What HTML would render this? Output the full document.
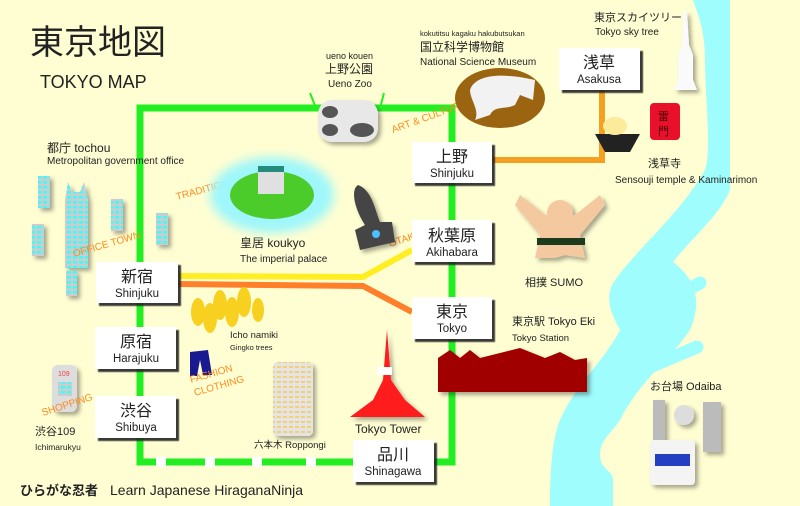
<!DOCTYPE html>
<html><head><meta charset="utf-8"><style>
html,body{margin:0;padding:0;background:#fffed2;}
svg{display:block;}
text{font-family:"Liberation Sans","Noto Sans CJK JP",sans-serif;fill:#222;}
.o{fill:#ff8a1a;font-size:10px;}
</style></head><body>
<svg width="800" height="506" viewBox="0 0 800 506" xmlns="http://www.w3.org/2000/svg">
<defs>
<filter id="sh" x="-20%" y="-20%" width="150%" height="150%"><feDropShadow dx="3" dy="3" stdDeviation="0.6" flood-color="#222" flood-opacity="0.9"/></filter>
<filter id="bl"><feGaussianBlur stdDeviation="5"/></filter>
<filter id="ss" x="-20%" y="-20%" width="150%" height="150%"><feDropShadow dx="3" dy="3" stdDeviation="2" flood-color="#000" flood-opacity="0.35"/></filter>
<pattern id="win" width="6" height="5" patternUnits="userSpaceOnUse"><rect width="6" height="5" fill="#ccc"/><rect x="1" y="1" width="4" height="2.5" fill="#3ff"/></pattern>
<pattern id="winy" width="6" height="5" patternUnits="userSpaceOnUse"><rect width="6" height="5" fill="#e4e4e4"/><rect x="1" y="1" width="4" height="2" fill="#f5d070"/></pattern>
</defs>
<rect width="800" height="506" fill="#fffed2"/>
<path d="M693,0 L730,0 L730,190 C720,215 690,240 673,262 C690,275 705,295 690,330 C670,360 640,380 620,420 C610,435 600,440 600,455 C600,470 613,470 613,480 L613,506 L550,506 C550,470 552,440 560,420 C575,385 605,360 620,330 C612,315 605,300 612,285 C630,255 680,215 705,170 C712,150 705,100 705,60 C705,30 698,15 693,0 Z" fill="#9ffdfd"/>
<path d="M650,310 L700,283 M650,367 L697,347" stroke="#9ffdfd" stroke-width="13" stroke-linecap="round"/>
<path d="M140,108 L452,108 L452,462 L140,462 Z" fill="none" stroke="#22ee22" stroke-width="7"/>
<g fill="#fff"><rect x="156" y="457" width="10" height="10"/><rect x="205" y="457" width="10" height="10"/><rect x="252" y="457" width="10" height="10"/><rect x="306" y="457" width="10" height="10"/></g>
<path d="M492,160 L602,160 L602,90" fill="none" stroke="#f5a020" stroke-width="6"/>
<path d="M178,276 L363,277 L412,250" fill="none" stroke="#ffee22" stroke-width="6"/>
<path d="M178,284 L363,286 L412,312" fill="none" stroke="#ff7f2a" stroke-width="6"/>
<text x="30" y="54" font-size="34">東京地図</text>
<text x="40" y="88" font-size="18">TOKYO MAP</text>
<text x="326" y="59" font-size="9">ueno kouen</text>
<text x="325" y="73" font-size="12">上野公園</text>
<text x="328" y="87" font-size="10">Ueno Zoo</text>
<text x="420" y="36" font-size="7.5">kokutitsu kagaku hakubutsukan</text>
<text x="420" y="51" font-size="12">国立科学博物館</text>
<text x="420" y="65" font-size="10">National Science Museum</text>
<text x="594" y="21" font-size="11">東京スカイツリー</text>
<text x="595" y="35" font-size="10">Tokyo sky tree</text>
<text x="47" y="152" font-size="12">都庁 tochou</text>
<text x="47" y="164" font-size="10">Metropolitan government office</text>
<text x="648" y="167" font-size="11">浅草寺</text>
<text x="615" y="183" font-size="10">Sensouji temple &amp; Kaminarimon</text>
<text x="240" y="247" font-size="12">皇居 koukyo</text>
<text x="240" y="262" font-size="10">The imperial palace</text>
<text x="525" y="286" font-size="11">相撲 SUMO</text>
<text x="512" y="325" font-size="11">東京駅 Tokyo Eki</text>
<text x="512" y="341" font-size="9.5">Tokyo Station</text>
<text x="230" y="338" font-size="9.5">Icho namiki</text>
<text x="230" y="350" font-size="7.5">Gingko trees</text>
<text x="650" y="390" font-size="11">お台場 Odaiba</text>
<text x="35" y="435" font-size="11">渋谷109</text>
<text x="35" y="450" font-size="8.5">Ichimarukyu</text>
<text x="254" y="448" font-size="9.5">六本木 Roppongi</text>
<text x="355" y="433" font-size="12">Tokyo Tower</text>
<text x="20" y="495" font-size="13" font-weight="bold" font-family="Noto Sans CJK JP">ひらがな忍者</text>
<text x="110" y="495" font-size="14">Learn Japanese HiraganaNinja</text>
<g filter="url(#ss)">
<rect x="38" y="176" width="12" height="32" fill="url(#win)"/><rect x="32" y="224" width="12" height="32" fill="url(#win)"/>
<path d="M65,200 L68,182 L72,192 L80,192 L84,182 L88,200 L88,268 L65,268Z" fill="url(#win)"/>
<rect x="111" y="199" width="12" height="32" fill="url(#win)"/><rect x="156" y="213" width="12" height="32" fill="url(#win)"/><rect x="66" y="271" width="11" height="25" fill="url(#win)"/>
<rect x="52" y="365" width="25" height="47" rx="6" fill="#ddd"/>
<rect x="273" y="362" width="40" height="74" rx="5" fill="url(#winy)"/>
</g>
<rect x="58" y="382" width="14" height="14" fill="url(#win)"/>
<text x="58" y="376" font-size="7" style="fill:#e44">109</text>
<text class="o" transform="translate(177,200) rotate(-15)">TRADITION</text>
<text class="o" transform="translate(74,257) rotate(-16)">OFFICE TOWN</text>
<text class="o" transform="translate(393,133) rotate(-20)">ART &amp; CULTURE</text>
<text class="o" transform="translate(390,247) rotate(-18)">OTAKU</text>
<text class="o" transform="translate(43,416) rotate(-18)">SHOPPING</text>
<ellipse cx="500" cy="98" rx="45" ry="30" fill="#9a6410"/>
<path d="M470,90 C475,75 500,72 535,80 L533,100 L520,95 L515,105 C505,110 495,105 490,115 L475,120 C480,110 470,100 470,90Z" fill="#f2f2f2"/>
<path d="M683,12 L687,12 L689,45 L693,55 L693,80 L697,90 L674,90 L678,80 L678,55 L682,45Z" fill="#fafafa" filter="url(#ss)"/>
<rect x="650" y="103" width="30" height="37" rx="4" fill="#e8102a"/>
<text x="658" y="120" font-size="11" style="fill:#400">雷</text><text x="658" y="135" font-size="11" style="fill:#400">門</text>
<path d="M595,134 L640,134 L630,152 L605,152Z" fill="#222"/>
<ellipse cx="615" cy="126" rx="12" ry="9" fill="#fbeb9a"/>
<ellipse cx="272" cy="195" rx="62" ry="38" fill="#9ff7fb" filter="url(#bl)"/>
<ellipse cx="272" cy="195" rx="42" ry="24" fill="#4ccc2a"/>
<rect x="258" y="168" width="26" height="26" fill="#e0e0e0"/><rect x="258" y="166" width="26" height="6" fill="#238c7c"/>
<rect x="318" y="100" width="60" height="42" rx="14" fill="#e8e8e8" filter="url(#ss)"/>
<ellipse cx="330" cy="112" rx="8" ry="6" fill="#555"/><ellipse cx="330" cy="130" rx="8" ry="6" fill="#555"/><ellipse cx="362" cy="130" rx="12" ry="7" fill="#555"/>
<path d="M310,93 L316,108 M384,93 L380,108" stroke="#22ee22" stroke-width="2"/>
<path d="M358,185 C350,190 355,210 365,225 L355,230 L360,250 L395,242 L392,222 L380,222 C375,210 372,190 358,185Z" fill="#444" filter="url(#ss)"/><circle cx="376" cy="234" r="4" fill="#4bc0ff"/>
<g fill="#f5c9a0" filter="url(#ss)"><path d="M520,195 L545,215 L575,215 L600,195 L605,205 L580,235 L585,258 L565,255 L555,258 L535,258 L540,235 L515,205Z"/><circle cx="560" cy="213" r="13"/></g>
<rect x="537" y="238" width="48" height="7" fill="#1c3a1c"/>
<g fill="#f8d020"><ellipse cx="198" cy="312" rx="7" ry="14"/><ellipse cx="210" cy="318" rx="7" ry="15"/><ellipse cx="220" cy="305" rx="7" ry="15"/><ellipse cx="232" cy="312" rx="7" ry="15"/><ellipse cx="244" cy="302" rx="7" ry="15"/><ellipse cx="258" cy="310" rx="6" ry="12"/></g>
<path d="M190,352 L208,350 L212,375 L203,375 L200,360 L197,376 L190,376Z" fill="#1a1a90"/>
<text class="o" transform="translate(191,383) rotate(-16)">FASHION</text>
<text class="o" transform="translate(195,396) rotate(-16)">CLOTHING</text>
<g filter="url(#ss)"><path d="M387,330 L391,380 L405,400 L425,417 L350,417 L373,400 L383,380Z" fill="#ff1a1a"/>
<path d="M438,358 L450,350 L460,358 L470,350 L480,358 L520,348 L545,358 L560,352 L575,360 L587,358 L587,392 L438,392Z" fill="#a00000"/></g>
<rect x="377" y="367" width="15" height="8" fill="#fff"/>
<g filter="url(#ss)"><rect x="653" y="400" width="12" height="42" fill="#bbb"/><rect x="703" y="402" width="18" height="50" fill="#bbb"/><circle cx="684" cy="415" r="10" fill="#ddd"/>
<rect x="650" y="440" width="45" height="45" rx="4" fill="#f4f4f4"/></g>
<rect x="655" y="454" width="35" height="12" fill="#2440c0"/>
<g filter="url(#sh)" fill="#fff">
<rect x="412" y="142" width="80" height="41"/><rect x="559" y="48" width="81" height="42"/><rect x="412" y="220" width="80" height="42"/><rect x="412" y="297" width="80" height="42"/>
<rect x="96" y="262" width="82" height="41"/><rect x="95" y="327" width="81" height="42"/><rect x="95" y="396" width="81" height="42"/><rect x="353" y="440" width="81" height="42"/>
</g>
<g font-size="16" text-anchor="middle">
<text x="452" y="162">上野</text><text x="599" y="68">浅草</text><text x="452" y="241">秋葉原</text><text x="452" y="317">東京</text>
<text x="137" y="282">新宿</text><text x="136" y="347">原宿</text><text x="136" y="416">渋谷</text><text x="393" y="460">品川</text>
</g>
<g font-size="11.5" text-anchor="middle">
<text x="452" y="177">Shinjuku</text><text x="599" y="83">Asakusa</text><text x="452" y="256">Akihabara</text><text x="452" y="332">Tokyo</text>
<text x="137" y="297">Shinjuku</text><text x="136" y="362">Harajuku</text><text x="136" y="431">Shibuya</text><text x="393" y="475">Shinagawa</text>
</g>
</svg>
</body></html>
